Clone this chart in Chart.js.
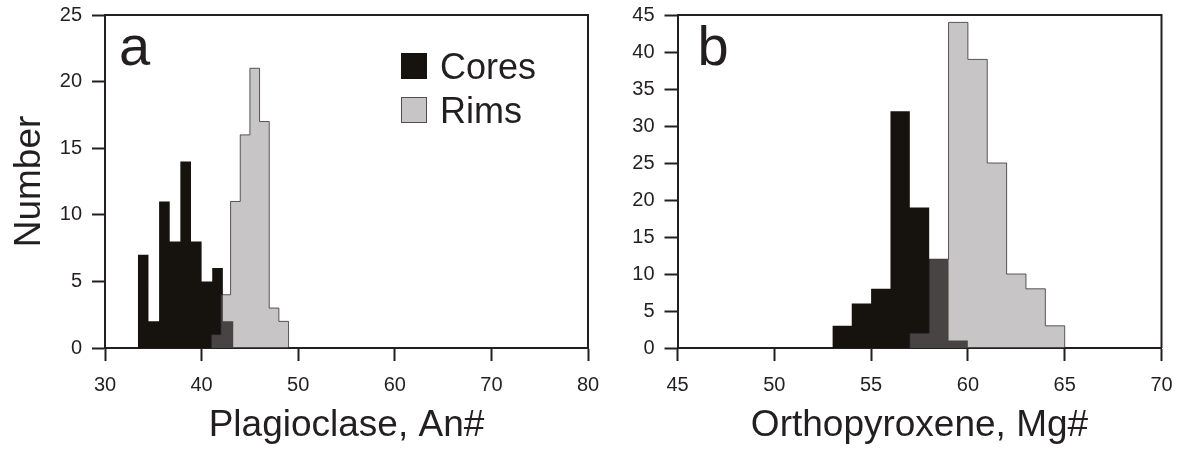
<!DOCTYPE html>
<html>
<head>
<meta charset="utf-8">
<script src="https://cdn.jsdelivr.net/npm/chart.js@4/dist/chart.umd.min.js"></script>
<style>
  html, body { margin: 0; padding: 0; background: #fff; }
  #wrap { position: relative; width: 1179px; height: 451px; overflow: hidden; }
  canvas { position: absolute; top: 0; }
  #chartA { left: 0; }
  #chartB { left: 600px; }
</style>
</head>
<body>
<div id="wrap">
  <canvas id="chartA" width="600" height="451"></canvas>
  <canvas id="chartB" width="579" height="451"></canvas>
</div>
<script>
// panel a: plagioclase An#
const aCoreEdges = [33.4, 34.5, 35.6, 36.7, 37.8, 38.9, 40.0, 41.1, 42.2, 43.3];
const aCoreCounts = [7, 2, 11, 8, 14, 8, 5, 6, 2];
const aRimEdges = [41, 42, 43, 44, 45, 46, 47, 48, 49];
const aRimCounts = [1, 4, 11, 16, 21, 17, 3, 2];
const aXTicks = [30, 40, 50, 60, 70, 80];
const aYTicks = [0, 5, 10, 15, 20, 25];

// panel b: orthopyroxene Mg#
const bCoreEdges = [53, 54, 55, 56, 57, 58, 59, 60];
const bCoreCounts = [3, 6, 8, 32, 19, 12, 1];
const bRimEdges = [57, 58, 59, 60, 61, 62, 63, 64, 65];
const bRimCounts = [2, 12, 44, 39, 25, 10, 8, 3];
const bXTicks = [45, 50, 55, 60, 65, 70];
const bYTicks = [0, 5, 10, 15, 20, 25, 30, 35, 40, 45];

const seriesNames = ['Cores', 'Rims'];

const FONT = "'Liberation Sans', Arial, Helvetica, sans-serif";
const INK = '#231f20';
const CORE_FILL = '#16130f';
const RIM_FILL = 'rgba(135, 128, 132, 0.455)';
const RIM_SWATCH = '#c8c5c7';
const RIM_LINE = 'rgba(40, 38, 40, 0.75)';

// step outline of a histogram: edges[i]..edges[i+1] has counts[i]
const histPoints = (edges, counts) => {
    const pts = [{ x: edges[0], y: 0 }];
    counts.forEach((c, i) => pts.push({ x: edges[i], y: c }));
    pts.push({ x: edges[edges.length - 1], y: 0 });
    return pts;
};

const framePlugin = {
    id: 'frame',
    afterDraw(chart) {
        const { ctx, chartArea: a } = chart;
        ctx.save();
        ctx.strokeStyle = INK;
        ctx.lineWidth = 2;
        ctx.beginPath();
        ctx.moveTo(a.left, a.top);
        ctx.lineTo(a.right, a.top);
        ctx.lineTo(a.right, a.bottom);
        ctx.stroke();
        // top-left and bottom-right tick stubs already come from the axes
        ctx.restore();
    },
};

const labelsPlugin = {
    id: 'panelText',
    afterDraw(chart, args, opts) {
        const { ctx, chartArea: a } = chart;
        ctx.save();
        ctx.fillStyle = INK;
        ctx.textBaseline = 'alphabetic';
        ctx.font = `56px ${FONT}`;
        ctx.fillText(opts.letter, a.left + opts.letterDx, 65);
        if (opts.legend) {
            const x0 = 401;
            ctx.fillStyle = CORE_FILL;
            ctx.fillRect(x0, 53, 26, 26);
            ctx.fillStyle = RIM_SWATCH;
            ctx.fillRect(x0, 97, 26, 26);
            ctx.strokeStyle = RIM_LINE;
            ctx.lineWidth = 1;
            ctx.strokeRect(x0 + 0.5, 97.5, 25, 25);
            ctx.fillStyle = INK;
            ctx.font = `36px ${FONT}`;
            ctx.fillText(seriesNames[0], 440, 79);
            ctx.fillText(seriesNames[1], 440, 123);
        }
        ctx.restore();
    },
};

const makeChart = (id, cfg) => {
    const axisCommon = {
        type: 'linear',
        grid: {
            drawOnChartArea: false,
            drawTicks: true,
            tickLength: 13,
            tickWidth: 2,
            tickColor: INK,
        },
        border: { display: true, color: INK, width: 2 },
    };
    return new Chart(document.getElementById(id).getContext('2d'), {
        type: 'line',
        data: {
            datasets: [
                {
                    label: seriesNames[1],
                    data: histPoints(cfg.rimEdges, cfg.rimCounts),
                    stepped: true,
                    fill: 'origin',
                    backgroundColor: RIM_FILL,
                    borderColor: RIM_LINE,
                    borderWidth: 1,
                    pointRadius: 0,
                    order: 1,
                },
                {
                    label: seriesNames[0],
                    data: histPoints(cfg.coreEdges, cfg.coreCounts),
                    stepped: true,
                    fill: 'origin',
                    backgroundColor: CORE_FILL,
                    borderColor: CORE_FILL,
                    borderWidth: 0,
                    pointRadius: 0,
                    order: 2,
                },
            ],
        },
        options: {
            responsive: false,
            animation: false,
            layout: { padding: { top: 15, right: cfg.padRight, left: 0, bottom: 0 } },
            scales: {
                x: {
                    ...axisCommon,
                    min: cfg.xTicks[0],
                    max: cfg.xTicks[cfg.xTicks.length - 1],
                    afterBuildTicks(scale) {
                        scale.ticks = cfg.xTicks.map((v) => ({ value: v }));
                    },
                    ticks: {
                        color: INK,
                        padding: 12,
                        maxRotation: 0,
                        font: { size: 20, family: FONT },
                    },
                    title: {
                        display: true,
                        text: cfg.xTitle,
                        color: INK,
                        font: { size: 37, family: FONT },
                        padding: { top: 0, bottom: 3 },
                    },
                    afterFit(scale) {
                        scale.height = 103;
                        scale.paddingLeft = 0;
                        scale.paddingRight = 0;
                    },
                },
                y: {
                    ...axisCommon,
                    min: cfg.yTicks[0],
                    max: cfg.yTicks[cfg.yTicks.length - 1],
                    afterBuildTicks(scale) {
                        scale.ticks = cfg.yTicks.map((v) => ({ value: v }));
                    },
                    ticks: {
                        color: INK,
                        padding: 10,
                        font: { size: 20, family: FONT },
                    },
                    title: {
                        display: !!cfg.yTitle,
                        text: cfg.yTitle || '',
                        color: INK,
                        font: { size: 37, family: FONT },
                        padding: { top: 8, bottom: 0 },
                    },
                    afterFit(scale) {
                        scale.width = cfg.yWidth;
                        scale.paddingTop = 0;
                        scale.paddingBottom = 0;
                    },
                },
            },
            plugins: {
                legend: { display: false },
                tooltip: { enabled: false },
                panelText: { letter: cfg.letter, letterDx: cfg.letterDx, legend: cfg.legend },
            },
        },
        plugins: [framePlugin, labelsPlugin],
    });
};

makeChart('chartA', {
    coreEdges: aCoreEdges,
    coreCounts: aCoreCounts,
    rimEdges: aRimEdges,
    rimCounts: aRimCounts,
    xTicks: aXTicks,
    yTicks: aYTicks,
    xTitle: 'Plagioclase, An#',
    yTitle: 'Number',
    yWidth: 105,
    padRight: 12,
    letter: 'a',
    letterDx: 14,
    legend: true,
});

makeChart('chartB', {
    coreEdges: bCoreEdges,
    coreCounts: bCoreCounts,
    rimEdges: bRimEdges,
    rimCounts: bRimCounts,
    xTicks: bXTicks,
    yTicks: bYTicks,
    xTitle: 'Orthopyroxene, Mg#',
    yTitle: '',
    yWidth: 77.5,
    padRight: 17.5,
    letter: 'b',
    letterDx: 20,
    legend: false,
});
</script>
</body>
</html>
